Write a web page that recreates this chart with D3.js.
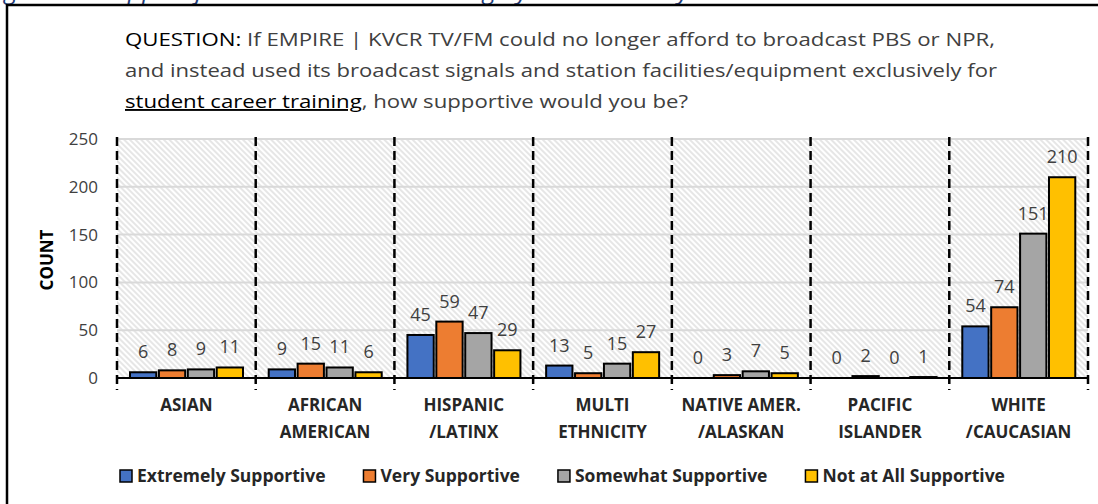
<!DOCTYPE html>
<html>
<head>
<meta charset="utf-8">
<script src="https://cdn.jsdelivr.net/npm/d3@7"></script>
<style>
  body { margin: 0; background: #fff; }
  text { font-family: "Open Sans", "Noto Sans", sans-serif; }
</style>
</head>
<body>
<div id="chart"></div>
<script>
// chart data
var categories = [
  ["ASIAN"],
  ["AFRICAN", "AMERICAN"],
  ["HISPANIC", "/LATINX"],
  ["MULTI", "ETHNICITY"],
  ["NATIVE AMER.", "/ALASKAN"],
  ["PACIFIC", "ISLANDER"],
  ["WHITE", "/CAUCASIAN"]
];
var seriesNames = ["Extremely Supportive", "Very Supportive", "Somewhat Supportive", "Not at All Supportive"];
var extremely = [6, 9, 45, 13, 0, 0, 54];
var very = [8, 15, 59, 5, 3, 2, 74];
var somewhat = [9, 11, 47, 15, 7, 0, 151];
var notAtAll = [11, 6, 29, 27, 5, 1, 210];
var yTicks = [0, 50, 100, 150, 200, 250];
var colors = ["#4472C4", "#ED7D31", "#A5A5A5", "#FFC000"];

var questionLines = [
  "If EMPIRE | KVCR TV/FM could no longer afford to broadcast PBS or NPR,",
  "and instead used its broadcast signals and station facilities/equipment exclusively for",
  ", how supportive would you be?"
];

var svgWidth = 1098;
var svgHeight = 504;

var plot = { left: 117, right: 1088, top: 139, bottom: 378 };

var svg = d3.select("#chart")
  .append("svg")
  .attr("width", svgWidth)
  .attr("height", svgHeight);

// hatch pattern for plot background
var defs = svg.append("defs");
defs.append("pattern")
  .attr("id", "hatch")
  .attr("patternUnits", "userSpaceOnUse")
  .attr("width", 4)
  .attr("height", 4)
  .attr("patternTransform", "rotate(-45)")
  .append("line")
  .attr("x1", 1).attr("y1", 0)
  .attr("x2", 1).attr("y2", 4)
  .attr("stroke", "#dcdcdc")
  .attr("stroke-width", 1.4);

// cut-off figure caption above the frame (only descenders show, like the source)
svg.append("text")
  .attr("x", -14)
  .attr("y", -1)
  .attr("fill", "#1F3D7A")
  .attr("font-style", "italic")
  .attr("font-size", 25)
  .text("Figure 28: Support for Student Career Training by Race/Ethnicity");

// frame
svg.append("line")
  .attr("x1", 6).attr("x2", svgWidth)
  .attr("y1", 5).attr("y2", 5)
  .attr("stroke", "#000").attr("stroke-width", 2.5);
svg.append("line")
  .attr("x1", 7).attr("x2", 7)
  .attr("y1", 4).attr("y2", svgHeight)
  .attr("stroke", "#000").attr("stroke-width", 2.5);

// question text
var q1 = svg.append("text")
  .attr("x", 125).attr("y", 46)
  .attr("font-size", 19)
  .attr("fill", "#404040")
  .attr("textLength", 870)
  .attr("lengthAdjust", "spacingAndGlyphs");
q1.append("tspan").attr("fill", "#000").text("QUESTION: ");
q1.append("tspan").text(questionLines[0]);

svg.append("text")
  .attr("x", 125).attr("y", 77)
  .attr("font-size", 19)
  .attr("fill", "#404040")
  .attr("textLength", 872)
  .attr("lengthAdjust", "spacingAndGlyphs")
  .text(questionLines[1]);

var q3 = svg.append("text")
  .attr("x", 125).attr("y", 108)
  .attr("font-size", 19)
  .attr("fill", "#404040")
  .attr("textLength", 563)
  .attr("lengthAdjust", "spacingAndGlyphs");
q3.append("tspan").attr("fill", "#000").attr("text-decoration", "underline").text("student career training");
q3.append("tspan").text(questionLines[2]);

// scales
var x0 = d3.scaleBand()
  .domain(d3.range(categories.length))
  .range([plot.left, plot.right]);

var x1 = d3.scaleBand()
  .domain(d3.range(seriesNames.length))
  .range([13, 126])
  .paddingInner(0.09);

var y = d3.scaleLinear()
  .domain([0, 250])
  .range([plot.bottom, plot.top]);

// background
svg.append("rect")
  .attr("x", plot.left).attr("y", plot.top)
  .attr("width", plot.right - plot.left)
  .attr("height", plot.bottom - plot.top)
  .attr("fill", "url(#hatch)");

// gridlines
svg.selectAll(".grid")
  .data(yTicks.filter(d => d > 0))
  .enter()
  .append("line")
  .attr("x1", plot.left).attr("x2", plot.right)
  .attr("y1", d => y(d)).attr("y2", d => y(d))
  .attr("stroke", "#d9d9d9")
  .attr("stroke-width", 2);

// y axis labels
var leftAxis = d3.axisLeft(y).tickValues(yTicks).tickSize(0).tickPadding(19);
var yAxis = svg.append("g")
  .attr("transform", `translate(${plot.left}, 0)`)
  .call(leftAxis);
yAxis.select(".domain").remove();
yAxis.selectAll("text")
  .attr("font-family", "Open Sans, Noto Sans, sans-serif")
  .attr("font-size", 17)
  .attr("fill", "#404040");

svg.append("text")
  .attr("transform", "translate(53, 260) rotate(-90)")
  .attr("text-anchor", "middle")
  .attr("font-size", 17)
  .attr("font-weight", "bold")
  .attr("fill", "#000")
  .text("COUNT");

// bars
var table = [extremely, very, somewhat, notAtAll];
var barData = [];
table.forEach(function (vals, s) {
  vals.forEach(function (v, c) {
    barData.push({ s: s, c: c, v: v });
  });
});

svg.selectAll(".bar")
  .data(barData.filter(d => d.v > 0))
  .enter()
  .append("rect")
  .attr("x", d => x0(d.c) + x1(d.s))
  .attr("y", d => y(d.v))
  .attr("width", x1.bandwidth())
  .attr("height", d => y(0) - y(d.v))
  .attr("fill", d => colors[d.s])
  .attr("stroke", "#000")
  .attr("stroke-width", 2);

// value labels
svg.selectAll(".val")
  .data(barData)
  .enter()
  .append("text")
  .attr("x", d => x0(d.c) + x1(d.s) + x1.bandwidth() / 2)
  .attr("y", d => y(d.v) - 14)
  .attr("text-anchor", "middle")
  .attr("font-size", 18)
  .attr("fill", "#404040")
  .text(d => d.v);

// category dividers
svg.selectAll(".divider")
  .data(d3.range(categories.length + 1))
  .enter()
  .append("line")
  .attr("x1", d => plot.left + d * x0.bandwidth())
  .attr("x2", d => plot.left + d * x0.bandwidth())
  .attr("y1", 137).attr("y2", 390)
  .attr("stroke", "#000")
  .attr("stroke-width", 2.5)
  .attr("stroke-dasharray", "9,5");

// x baseline
svg.append("line")
  .attr("x1", plot.left).attr("x2", plot.right)
  .attr("y1", plot.bottom).attr("y2", plot.bottom)
  .attr("stroke", "#000")
  .attr("stroke-width", 2);

// category labels
categories.forEach(function (lines, i) {
  var t = svg.append("text")
    .attr("text-anchor", "middle")
    .attr("font-size", 17)
    .attr("font-weight", "bold")
    .attr("fill", "#262626");
  lines.forEach(function (line, j) {
    t.append("tspan")
      .attr("x", x0(i) + x0.bandwidth() / 2)
      .attr("y", 411 + j * 27)
      .text(line);
  });
});

// legend, items laid out one after another
var legendG = svg.append("g").attr("transform", "translate(120, 470)");
var cursor = 0;
seriesNames.forEach(function (name, i) {
  var item = legendG.append("g").attr("transform", `translate(${cursor}, 0)`);
  item.append("rect")
    .attr("width", 12).attr("height", 12)
    .attr("fill", colors[i])
    .attr("stroke", "#000")
    .attr("stroke-width", 1.5);
  var label = item.append("text")
    .attr("x", 17).attr("y", 12)
    .attr("font-size", 17.5)
    .attr("font-weight", "bold")
    .attr("fill", "#262626")
    .text(name);
  cursor += 17 + label.node().getComputedTextLength() + 38;
});
</script>
</body>
</html>
